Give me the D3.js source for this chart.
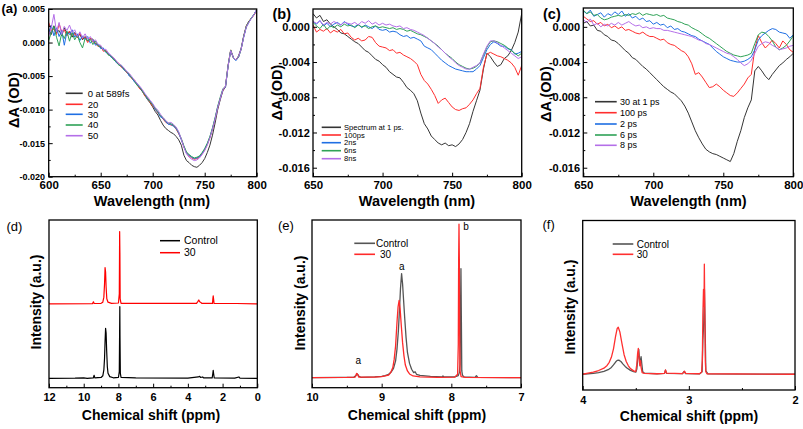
<!DOCTYPE html>
<html>
<head>
<meta charset="utf-8">
<script src="https://cdn.jsdelivr.net/npm/d3@7"></script>
<style>
  body { margin: 0; background: #fff; }
  svg { display: block; font-family: "Liberation Sans", Arial, sans-serif; }
</style>
</head>
<body>
<svg id="fig" width="803" height="429"></svg>
<script>
// ---------------- Datos ----------------
// Longitudes de onda (nm), paso 2.5
const wlA = [600,602.5,605,607.5,610,612.5,615,617.5,620,622.5,625,627.5,630,632.5,635,637.5,640,642.5,645,647.5,
  650,652.5,655,657.5,660,662.5,665,667.5,670,672.5,675,677.5,680,682.5,685,687.5,690,692.5,695,697.5,
  700,702.5,705,707.5,710,712.5,715,717.5,720,722.5,725,727.5,730,732.5,735,737.5,740,742.5,745,747.5,
  750,752.5,755,757.5,760,762.5,765,767.5,770,772.5,775,777.5,780,782.5,785,787.5,790,792.5,795,797.5,800];
const wlBC = wlA.slice(20); // 650 - 800

// (a) ΔA en mOD
const a_0fs = [2.0,1.2,2.5,1.5,1.8,1.0,2.2,1.4,1.6,0.8, 1.5,0.9,1.2,0.4,0.9,0.2,0.6,0.5,-0.2,-0.3,
  -0.8,-1.0,-1.3,-1.8,-2.0,-2.5,-2.8,-3.3,-3.6,-4.0, -4.4,-4.9,-5.3,-5.8,-6.3,-6.8,-7.3,-7.9,-8.5,-9.0,
  -9.6,-10.3,-10.8,-11.6,-12.3,-12.8,-13.1,-13.4,-13.6,-14.0, -14.5,-15.3,-16.8,-17.6,-17.9,-18.3,-18.5,-18.6,-18.3,-17.9,
  -17.3,-16.4,-15.3,-13.8,-12.0,-10.0,-8.5,-7.2,-6.6,-3.5, -1.2,-2.3,-2.6,-2.0,-0.9,1.0,2.5,3.2,3.6,4.2, 4.9];
const a_20 = [3.0,1.8,2.0,1.2,2.8,1.6,1.9,1.0,1.7,1.1, 1.3,0.7,1.4,0.6,0.8,0.0,0.7,0.1,-0.1,-0.6,
  -0.5,-1.3,-1.2,-1.7,-2.1,-2.3,-2.9,-3.1,-3.7,-3.9, -4.5,-4.8,-5.4,-5.6,-6.2,-6.9,-7.1,-8.0,-8.2,-8.9,
  -9.5,-9.9,-10.5,-11.0,-11.4,-11.9,-12.1,-12.3,-12.4,-12.9, -13.6,-14.4,-15.6,-16.4,-16.9,-17.2,-17.4,-17.3,-17.1,-16.6,
  -16.0,-15.2,-14.2,-12.9,-11.4,-9.7,-8.3,-7.1,-6.5,-3.4, -1.1,-2.2,-2.6,-2.1,-1.0,0.9,2.4,3.1,3.7,4.1, 4.8];
const a_30 = [1.5,2.6,1.0,2.2,0.9,1.8,-0.4,1.6,1.2,1.9, 0.8,1.3,0.3,1.0,0.5,0.9,-0.1,0.4,-0.4,-0.2,
  -0.9,-0.8,-1.5,-1.6,-2.2,-2.4,-3.0,-3.2,-3.5,-4.1, -4.3,-5.0,-5.2,-5.9,-6.1,-6.7,-7.2,-7.7,-8.4,-8.7,
  -9.2,-10.0,-10.4,-11.1,-11.3,-11.8,-12.2,-12.2,-12.5,-12.8, -13.5,-14.5,-15.5,-16.5,-16.8,-17.1,-17.3,-17.2,-17.0,-16.5,
  -15.9,-15.1,-14.1,-12.8,-11.3,-9.6,-8.3,-7.0,-6.6,-3.5, -1.2,-2.2,-2.7,-2.2,-1.0,0.8,2.3,3.0,3.7,4.2, 4.9];
const a_40 = [0.3,1.5,2.4,0.8,-0.5,1.4,0.6,1.7,0.2,1.5, 0.4,1.1,0.0,-0.8,0.6,0.3,0.5,-0.3,0.2,-0.5,
  -0.6,-1.1,-1.3,-1.9,-2.0,-2.6,-2.8,-3.4,-3.4,-4.0, -4.4,-4.7,-5.3,-5.7,-6.4,-6.6,-7.2,-7.8,-8.3,-8.8,
  -9.3,-9.8,-10.3,-10.9,-11.2,-11.7,-12.0,-12.1,-12.3,-12.7, -13.4,-14.3,-15.4,-16.3,-16.7,-17.0,-17.2,-17.1,-16.9,-16.4,
  -15.8,-15.0,-14.0,-12.7,-11.2,-9.5,-8.1,-6.9,-6.5,-3.4, -1.1,-2.2,-2.6,-2.2,-1.0,0.9,2.4,3.1,3.7,4.2, 4.8];
const a_50 = [1.0,2.2,4.2,1.6,3.0,1.2,2.4,1.8,2.6,1.5, 1.9,0.9,1.6,0.7,1.3,0.5,0.9,0.2,0.4,-0.3,
  -0.4,-1.1,-1.0,-1.6,-1.9,-2.3,-2.7,-3.2,-3.4,-3.8, -4.3,-4.6,-5.1,-5.6,-6.1,-6.5,-7.0,-7.6,-8.1,-8.6,
  -9.1,-9.7,-10.1,-10.7,-11.2,-11.6,-12.0,-11.9,-12.2,-12.6, -13.3,-14.4,-15.6,-16.6,-17.1,-17.4,-17.6,-17.5,-17.2,-16.7,
  -16.1,-15.3,-14.2,-12.9,-11.4,-9.7,-8.3,-7.0,-6.5,-3.5, -1.2,-2.2,-2.6,-2.1,-1.0,0.8,2.3,3.0,3.6,4.2, 4.9];

// (b) ΔA en mOD
const b_1ps = [1.5,1.0,1.3,0.6,0.8,0.3,0.0,-0.3,-0.7,-0.8, -1.1,-1.4,-1.7,-1.9,-2.3,-2.7,-2.9,-3.3,-3.7,-3.9,
  -4.3,-4.6,-5.1,-5.4,-5.7,-5.8,-6.3,-6.9,-7.2,-7.6, -8.4,-9.8,-11.0,-11.6,-12.4,-12.8,-13.2,-13.4,-13.2,-13.5,
  -13.4,-13.6,-13.3,-12.8,-12.0,-11.0,-9.6,-8.4,-7.2,-4.8, -3.0,-3.4,-4.0,-4.5,-4.3,-3.6,-3.3,-2.7,-1.8,-0.6, 1.5];
const b_100ps = [0.2,-0.6,-0.3,-0.5,-0.2,-0.7,-0.4,-0.6,-0.3,-0.8, -0.7,-1.2,-1.5,-1.3,-1.6,-1.5,-1.1,-1.2,-1.8,-2.2,
  -2.3,-2.4,-2.7,-2.6,-3.0,-2.9,-3.2,-3.4,-3.6,-3.9, -4.3,-5.4,-6.1,-6.5,-7.1,-7.8,-8.7,-8.3,-8.1,-8.6,
  -9.1,-9.4,-9.5,-9.3,-9.2,-8.8,-8.3,-7.6,-7.0,-4.6, -3.1,-2.9,-3.1,-3.3,-3.4,-3.6,-3.8,-4.1,-4.6,-5.5, -4.4];
const b_2ns = [0.6,0.3,0.7,0.1,0.4,0.0,0.3,0.5,0.2,0.6, 0.3,0.1,0.0,0.3,-0.1,0.2,0.0,-0.2,0.1,-0.3,
  -0.4,-0.3,-0.6,-0.5,-0.6,-0.9,-1.1,-1.0,-1.3,-1.2, -1.4,-1.6,-2.2,-2.4,-2.6,-3.0,-3.4,-3.8,-4.1,-4.4,
  -4.6,-4.8,-4.9,-5.0,-5.1,-5.1,-5.1,-4.8,-4.4,-3.5, -2.6,-2.0,-1.7,-1.9,-2.2,-2.2,-2.5,-2.6,-3.1,-3.0, -2.8];
const b_6ns = [0.5,0.1,-0.2,0.3,-0.3,0.1,-0.1,0.2,0.0,0.3, 0.1,0.2,-0.1,0.2,0.0,0.1,-0.2,0.0,0.1,-0.1,
  0.0,-0.1,-0.2,-0.1,-0.3,-0.2,-0.3,-0.5,-0.4,-0.6, -0.8,-0.9,-1.1,-1.3,-1.6,-1.9,-2.2,-2.6,-3.0,-3.3,
  -3.6,-4.0,-4.3,-4.5,-4.7,-4.8,-4.7,-4.5,-4.1,-3.2, -2.3,-1.7,-1.6,-1.7,-1.9,-2.1,-2.4,-2.7,-3.0,-3.3, -3.0];
const b_8ns = [0.6,0.4,0.7,0.2,0.5,0.3,0.6,0.4,0.2,0.5, 0.4,0.3,0.5,0.2,0.6,0.4,0.7,0.3,0.5,0.2,
  0.4,0.2,0.3,0.1,0.0,0.1,-0.2,-0.1,-0.3,-0.4, -0.6,-0.8,-1.0,-1.3,-1.6,-1.9,-2.3,-2.6,-3.0,-3.4,
  -3.7,-4.1,-4.4,-4.6,-4.8,-4.8,-4.6,-4.4,-4.1,-3.1, -2.2,-1.6,-1.6,-1.8,-2.1,-2.4,-2.7,-3.0,-3.3,-3.6, -3.4];

// (c) ΔA en mOD
const c_1ps = [0.4,0.6,0.1,0.2,-0.4,-0.5,-0.9,-1.1,-1.5,-1.6, -1.9,-2.3,-2.7,-3.0,-3.5,-3.7,-4.1,-4.5,-4.8,-5.2,
  -5.6,-6.0,-6.4,-6.8,-7.1,-7.4,-7.6,-8.0,-8.4,-9.0, -9.8,-10.8,-11.8,-12.6,-13.3,-13.9,-14.2,-14.4,-14.5,-14.7,
  -14.9,-15.1,-15.3,-14.4,-13.0,-11.8,-10.3,-9.2,-8.3,-5.0, -4.5,-5.0,-5.6,-6.0,-5.4,-4.9,-4.4,-4.1,-3.7,-3.4, -3.0];
const c_100ps = [1.2,0.9,0.6,0.7,0.3,0.5,0.1,0.3,-0.1,0.1, -0.2,0.0,-0.4,-0.3,-0.5,-0.7,-0.8,-0.6,-0.9,-1.1,
  -1.1,-1.3,-1.5,-1.4,-1.8,-2.0,-2.1,-2.4,-2.7,-2.9, -3.4,-4.2,-5.4,-5.2,-5.7,-6.3,-6.9,-6.8,-6.5,-6.8,
  -7.2,-7.5,-7.8,-7.9,-7.5,-7.0,-6.5,-5.8,-5.4,-2.5, -1.0,-1.8,-2.4,-2.0,-1.5,-1.9,-2.4,-1.6,-2.0,-2.6, -2.9];
const c_2ps = [1.8,1.5,1.9,1.2,1.4,1.6,1.1,1.5,1.3,1.7, 1.4,1.8,1.2,1.5,1.0,1.2,0.8,1.0,0.6,0.7,
  0.3,0.5,0.2,0.3,-0.1,0.1,-0.3,-0.2,-0.5,-0.6, -0.8,-1.0,-1.1,-1.4,-1.6,-1.8,-2.0,-2.4,-2.8,-3.1,
  -3.4,-3.6,-3.8,-3.9,-4.0,-4.0,-3.9,-3.7,-3.4,-2.6, -1.5,-1.0,-0.7,-0.4,-0.2,-0.3,-0.6,-0.7,-0.8,-1.3, -0.9];
const c_6ps = [1.9,1.5,1.7,1.3,1.4,1.0,0.8,0.9,1.1,1.2, 1.3,1.2,1.4,1.3,1.5,1.4,1.6,1.3,1.5,1.4,
  1.3,1.4,1.2,1.3,1.0,0.9,0.8,0.6,0.5,0.3, 0.2,-0.1,-0.3,-0.5,-0.8,-1.1,-1.3,-1.6,-1.9,-2.2,
  -2.5,-2.8,-3.0,-3.2,-3.3,-3.4,-3.3,-3.2,-3.0,-1.9, -0.9,-0.6,-0.7,-1.1,-1.6,-2.3,-2.6,-2.4,-2.1,-1.6, -1.0];
const c_8ps = [0.8,0.5,0.9,0.2,0.4,0.0,0.3,0.1,0.4,0.2, 0.5,0.2,0.4,0.6,0.3,0.1,0.2,-0.1,0.0,-0.2,
  -0.1,-0.2,-0.2,-0.4,-0.4,-0.5,-0.6,-0.7,-0.8,-0.9, -1.0,-1.1,-1.3,-1.5,-1.6,-1.9,-2.0,-2.2,-2.4,-2.6,
  -2.8,-3.0,-3.1,-3.4,-3.7,-4.1,-4.4,-4.2,-3.8,-3.0, -2.2,-1.9,-1.7,-1.8,-2.1,-2.3,-2.6,-2.5,-2.4,-2.2, -2.1];

const legA = ['0 at 589fs', '20', '30', '40', '50'];
const legB = ['Spectrum at 1 ps.', '100ps', '2ns', '6ns', '8ns'];
const legC = ['30 at 1 ps', '100 ps', '2 ps', '6 ps', '8 ps'];

// RMN: [ppm, intensidad (u.a.)]
const d_control = [[12,0],[10.5,0.1],[10,0.3],[9.8,0],[9.45,0.2],[9.4,1.8],[9.36,0.2],[9.0,0.5],[8.9,1.5],[8.84,5],[8.8,12],
  [8.77,22],[8.74,29.8],[8.71,27],[8.68,17],[8.64,7],[8.6,3],[8.5,1],[8.3,0.3],[8.0,0.5],[7.95,4],[7.93,30],[7.92,42.7],[7.91,25],
  [7.89,3],[7.85,0.5],[7.0,0.2],[4.0,0.1],[3.4,0.8],[3.32,1.2],[3.27,0.5],[3.15,0.8],[3.1,0.3],[2.6,0.2],[2.56,3],[2.54,4.8],
  [2.52,3],[2.48,0.2],[1.3,0.1],[1.06,0.8],[1.0,0.1],[0,0]];
const d_30 = [[12,0],[9.5,0.1],[9.44,1.2],[9.4,0.2],[9.0,0.3],[8.9,1],[8.84,4],[8.8,12],[8.77,21.6],[8.74,19],[8.71,10],
  [8.67,3],[8.6,1],[8.4,0.3],[8.0,0.5],[7.95,6],[7.93,43.1],[7.915,30],[7.9,3],[7.85,0.3],[3.5,0.3],[3.42,1.5],[3.37,2.3],
  [3.32,1.2],[3.25,0.8],[3.2,0.3],[2.58,0.3],[2.56,3],[2.54,4.8],[2.52,3],[2.49,0.2],[1.2,0.2],[0,0]];

const e_control = [[10,0],[9.6,0.1],[9.4,0.2],[9.37,1.2],[9.35,2.2],[9.33,1.0],[9.3,0.2],[9.1,0.4],[9.0,0.7],[8.95,1.2],
  [8.9,2],[8.86,3.5],[8.83,5.5],[8.8,10],[8.78,17],[8.76,28],[8.745,40],[8.73,53],[8.714,62],[8.7,56],[8.685,46],[8.67,36],
  [8.65,24],[8.63,15],[8.6,8.5],[8.57,5],[8.54,3],[8.52,3.5],[8.5,2],[8.45,1.3],[8.3,0.7],[8.13,0.4],[8.12,1.0],[8.11,0.4],
  [7.95,0.5],[7.9,1.2],[7.885,3],[7.875,8],[7.868,40],[7.862,65],[7.856,35],[7.85,4],[7.84,1.5],[7.82,0.5],[7.66,0.2],
  [7.64,1.2],[7.62,0.2],[7,0]];
const e_30 = [[10,0],[9.5,0.1],[9.38,0.3],[9.36,2.5],[9.345,2.0],[9.33,0.3],[9.1,0.3],[9.0,0.6],[8.95,1.0],[8.9,1.5],
  [8.87,3],[8.84,6],[8.82,11],[8.8,19],[8.78,33],[8.765,42],[8.75,46],[8.735,41],[8.72,32],[8.7,21],[8.68,13],[8.66,7.5],
  [8.63,4],[8.6,2.2],[8.55,1],[8.45,0.5],[8.2,0.2],[7.95,0.3],[7.91,2],[7.9,20],[7.895,70],[7.89,91.5],[7.885,70],[7.88,25],
  [7.875,4],[7.86,0.6],[7.8,0.2],[7,0]];

const f_control = [[4,0],[3.9,0.5],[3.85,1],[3.8,1.7],[3.76,2.7],[3.73,4],[3.71,5.5],[3.69,7.2],[3.675,8.2],[3.66,8.3],
  [3.64,7.5],[3.62,6],[3.6,4.6],[3.58,3.5],[3.55,2.3],[3.52,1.5],[3.5,1.2],[3.49,3],[3.48,10],[3.472,14.7],[3.465,9],
  [3.458,7],[3.45,10.4],[3.443,6],[3.435,1.5],[3.42,0.7],[3.3,0.3],[3.23,0.5],[3.22,2.4],[3.21,0.5],[3.06,0.4],[3.045,1.6],
  [3.03,0.4],[2.9,0.2],[2.875,1.5],[2.868,20],[2.86,30],[2.853,50],[2.846,25],[2.84,2],[2.82,0.2],[2,0]];
const f_30 = [[4,0],[3.95,0.6],[3.9,1.2],[3.85,2.2],[3.8,3.6],[3.77,5.2],[3.75,7],[3.73,10],[3.71,15],[3.69,22.5],
  [3.675,27],[3.665,27.7],[3.65,25],[3.63,18],[3.61,11.5],[3.59,7.5],[3.57,5],[3.55,3.3],[3.52,2],[3.5,1.6],[3.49,6],
  [3.483,12],[3.476,15.3],[3.47,10],[3.462,5],[3.455,8],[3.45,4],[3.44,1],[3.42,0.5],[3.3,0.3],[3.23,0.5],[3.22,2.6],
  [3.21,0.6],[3.06,0.4],[3.04,1.8],[3.03,0.5],[2.9,0.3],[2.88,1.2],[2.873,8],[2.868,35],[2.862,50],[2.857,40],[2.854,65],
  [2.85,38],[2.845,8],[2.84,1.5],[2.83,0.3],[2,0]];
const legNMR = ['Control', '30'];

// Ticks
const ticksA_x = [600, 650, 700, 750, 800], ticksA_xm = [625, 675, 725, 775];
const ticksA_y = [-0.02, -0.015, -0.01, -0.005, 0, 0.005], ticksA_ym = [-0.0175, -0.0125, -0.0075, -0.0025, 0.0025];
const ticksBC_x = [650, 700, 750, 800], ticksBC_xm = [675, 725, 775];
const ticksBC_y = [-0.016, -0.012, -0.008, -0.004, 0], ticksBC_ym = [-0.014, -0.01, -0.006, -0.002];
const ticksD_x = [12, 10, 8, 6, 4, 2, 0], ticksD_xm = [11, 9, 7, 5, 3, 1];
const ticksE_x = [10, 9, 8, 7], ticksE_xm = [9.5, 8.5, 7.5];
const ticksF_x = [4, 3, 2], ticksF_xm = [3.5, 2.5];

// ---------------- Dibujo ----------------
const svg = d3.select('#fig');
const FONT = '"Liberation Sans", Arial, sans-serif';
const colores = ['#353535', '#ff2e2e', '#1f6fe3', '#2fa257', '#b46fe8'];
let nClip = 0;

// Marco de cada panel
function panel(box, xDom, yDom) {
  const x = d3.scaleLinear().domain(xDom).range([box.l, box.r]);
  const y = d3.scaleLinear().domain(yDom).range([box.b, box.t]);
  const id = 'clip' + (nClip++);
  svg.append('clipPath').attr('id', id).append('rect')
    .attr('x', box.l).attr('y', box.t).attr('width', box.r - box.l).attr('height', box.b - box.t);
  const plot = svg.append('g').attr('clip-path', `url(#${id})`);
  return { x, y, plot, box };
}

function ejes(P, xMaj, xMin, xFs, xPad, xFmt, yMaj, yMin, yFs, yPad, yFmt) {
  const b = P.box;
  const gx = svg.append('g').attr('transform', `translate(0,${b.b})`)
    .call(d3.axisBottom(P.x).tickValues(xMaj).tickSize(-4).tickPadding(xPad).tickFormat(xFmt));
  gx.attr('font-family', FONT).attr('font-size', xFs).attr('font-weight', 'bold');
  gx.select('.domain').remove();
  const gxm = svg.append('g').attr('transform', `translate(0,${b.b})`)
    .call(d3.axisBottom(P.x).tickValues(xMin).tickSize(-2).tickFormat(''));
  gxm.select('.domain').remove();
  if (yMaj) {
    const gy = svg.append('g').attr('transform', `translate(${b.l},0)`)
      .call(d3.axisLeft(P.y).tickValues(yMaj).tickSize(-4).tickPadding(yPad).tickFormat(yFmt));
    gy.attr('font-family', FONT).attr('font-size', yFs).attr('font-weight', 'bold');
    gy.select('.domain').remove();
    const gym = svg.append('g').attr('transform', `translate(${b.l},0)`)
      .call(d3.axisLeft(P.y).tickValues(yMin).tickSize(-2).tickFormat(''));
    gym.select('.domain').remove();
  }
  svg.selectAll('.tick line').attr('stroke', '#000').attr('stroke-width', 1);
  svg.selectAll('.tick text').attr('fill', '#000');
  svg.append('rect').attr('x', b.l).attr('y', b.t).attr('width', b.r - b.l).attr('height', b.b - b.t)
    .attr('fill', 'none').attr('stroke', '#000').attr('stroke-width', 1.3);
}

const fmtOD = v => (v < -1e-9 ? '-' : '') + Math.abs(v).toFixed(3);
const fmtInt = d3.format('d');

function texto(x, y, t, fs, peso, ancla) {
  return svg.append('text').attr('x', x).attr('y', y).attr('font-size', fs)
    .attr('font-weight', peso || 'normal').attr('text-anchor', ancla || 'start').attr('fill', '#000').text(t);
}
function tituloY(t, x, y, fs) {
  svg.append('text').attr('transform', `translate(${x},${y}) rotate(-90)`)
    .attr('text-anchor', 'middle').attr('font-size', fs).attr('font-weight', 'bold').text(t);
}
function leyenda(x0, x1, xt, ys, textos, cols, fs, lw) {
  ys.forEach((yy, i) => {
    svg.append('line').attr('x1', x0).attr('x2', x1).attr('y1', yy).attr('y2', yy)
      .attr('stroke', cols[i]).attr('stroke-width', lw);
    texto(xt, yy + fs * 0.35, textos[i], fs);
  });
}

// Espectros TA
function espectros(P, wl, series) {
  const line = d3.line().x((d, i) => P.x(wl[i])).y(d => P.y(d / 1000));
  series.forEach((s, i) => {
    P.plot.append('path').datum(s).attr('d', line)
      .attr('fill', 'none').attr('stroke', colores[i]).attr('stroke-width', 1).attr('stroke-linejoin', 'round');
  });
}
// RMN
function rmn(P, datos, offset, color, lw) {
  const line = d3.line().x(d => P.x(d[0])).y(d => P.y(d[1] + offset));
  P.plot.append('path').datum(datos).attr('d', line)
    .attr('fill', 'none').attr('stroke', color).attr('stroke-width', lw).attr('stroke-linejoin', 'round');
}

// (a)
const PA = panel({ l: 48.7, r: 256.7, t: 9, b: 176.7 }, [600, 800], [-0.02, 0.005]);
espectros(PA, wlA, [a_0fs, a_20, a_30, a_40, a_50]);
ejes(PA, ticksA_x, ticksA_xm, 11.5, 4.2, fmtInt, ticksA_y, ticksA_ym, 9, 3.7, fmtOD);
leyenda(65.7, 82.7, 87.7, [93.3, 104.3, 114.3, 125, 135.7], legA, colores, 9.5, 1.6);

// (b)
const PB = panel({ l: 313, r: 521.7, t: 9, b: 176.7 }, [650, 800], [-0.01702, 0.00202]);
espectros(PB, wlBC, [b_1ps, b_100ps, b_2ns, b_6ns, b_8ns]);
ejes(PB, ticksBC_x, ticksBC_xm, 11.5, 4.2, fmtInt, ticksBC_y, ticksBC_ym, 11, 3.2, fmtOD);
leyenda(321.7, 341, 344, [127.3, 135, 142.7, 150.7, 158.7], legB, colores, 7.6, 1.6);

// (c)
const PC = panel({ l: 583.3, r: 793.3, t: 8, b: 176.7 }, [650, 800], [-0.01702, 0.00214]);
espectros(PC, wlBC, [c_1ps, c_100ps, c_2ps, c_6ps, c_8ps]);
ejes(PC, ticksBC_x, ticksBC_xm, 11.5, 4.2, fmtInt, ticksBC_y, ticksBC_ym, 11, 3.2, fmtOD);
leyenda(595, 616.7, 620, [101.7, 112.7, 124, 135, 145.3], legC, colores, 9, 1.6);

// (d)
const PD = panel({ l: 49, r: 257.3, t: 220, b: 387.7 }, [12, 0], [0, 100]);
rmn(PD, d_control, 5.6, '#000', 1.2);
rmn(PD, d_30, 50, '#ff0000', 1.2);
ejes(PD, ticksD_x, ticksD_xm, 11, 6, fmtInt);
leyenda(160, 180, 184, [240.7, 252.7], legNMR, ['#000', '#ff0000'], 10.5, 1.5);

// (e)
const PE = panel({ l: 312, r: 521, t: 220, b: 387.7 }, [10, 7], [0, 100]);
rmn(PE, e_control, 6, '#555', 1.3);
rmn(PE, e_30, 6, '#ff2a2a', 1.3);
ejes(PE, ticksE_x, ticksE_xm, 11, 6, fmtInt);
leyenda(354.3, 375, 376, [243.3], [legNMR[0]], ['#555'], 10, 1.6);
leyenda(354.3, 375, 380, [254.3], [legNMR[1]], ['#ff2a2a'], 10, 1.6);
texto(358.3, 364, 'a', 10, 'normal', 'middle');
texto(401.7, 270, 'a', 10, 'normal', 'middle');
texto(466, 230, 'b', 10, 'normal', 'middle');

// (f)
const PF = panel({ l: 582.7, r: 795, t: 220.5, b: 390 }, [4, 2], [0, 100]);
rmn(PF, f_control, 9.3, '#555', 1.3);
rmn(PF, f_30, 9.3, '#ff3030', 1.3);
ejes(PF, ticksF_x, ticksF_xm, 11, 6, fmtInt);
leyenda(612.7, 633.3, 636.7, [244, 254.3], legNMR, ['#555', '#ff3030'], 10, 1.6);

// Títulos de ejes
texto(152, 206, 'Wavelength (nm)', 14.5, 'bold', 'middle');
texto(417, 206, 'Wavelength (nm)', 14.5, 'bold', 'middle');
texto(688.5, 206, 'Wavelength (nm)', 14.5, 'bold', 'middle');
texto(151, 420, 'Chemical shift (ppm)', 14, 'bold', 'middle');
texto(417, 420, 'Chemical shift (ppm)', 14, 'bold', 'middle');
texto(689, 421, 'Chemical shift (ppm)', 14, 'bold', 'middle');
tituloY('ΔA (OD)', 18.5, 100, 14.5);
tituloY('ΔA (OD)', 282, 92.5, 14.5);
tituloY('ΔA (OD)', 551, 94, 14.5);
tituloY('Intensity (a.u.)', 41, 302, 14);
tituloY('Intensity (a.u.)', 304.5, 303, 14);
tituloY('Intensity (a.u.)', 574.5, 307, 14);

// Etiquetas de panel
texto(1.5, 13, '(a)', 13, 'bold');
texto(272.5, 19, '(b)', 14.5, 'bold');
texto(543, 18.5, '(c)', 14.5, 'bold');
texto(6.5, 231, '(d)', 13);
texto(278, 229.5, '(e)', 13);
texto(542.5, 229, '(f)', 13);
</script>
</body>
</html>
